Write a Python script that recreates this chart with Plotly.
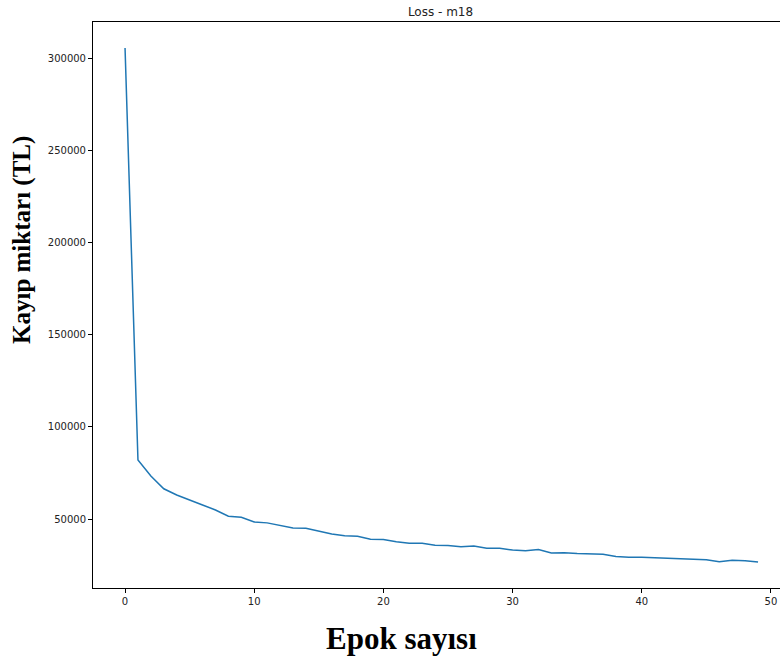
import plotly.graph_objects as go

epochs = list(range(50))
loss = [305400, 82000, 73300, 66400, 63000, 60100, 57600, 54900, 51500, 50900,
        48400, 47900, 46400, 45100, 45000, 43300, 41900, 40900, 40600, 39000,
        38900, 37700, 36800, 36800, 35800, 35600, 35000, 35300, 34100, 34100,
        33200, 32800, 33400, 31600, 31700, 31300, 31100, 30900, 29700, 29200,
        29300, 29000, 28700, 28600, 28500, 27900, 26800, 27600, 27400, 26700]

x_ticks = [0, 10, 20, 30, 40, 50]
y_ticks = [50000, 100000, 150000, 200000, 250000, 300000]

fig = go.Figure()
fig.add_trace(go.Scatter(x=epochs, y=loss, mode="lines",
                         line=dict(color="#1f77b4", width=1.5)))

W, H = 780, 657
fig.update_layout(
    width=W, height=H,
    margin=dict(l=93, r=0, t=22, b=69),
    paper_bgcolor="white", plot_bgcolor="white",
    showlegend=False,
    font=dict(family="DejaVu Sans", size=10, color="#222"),
    title=dict(text="Loss - m18", x=(93 + 788) / 2 / W, xanchor="center",
               y=1 - 12 / H, yanchor="middle",
               font=dict(family="DejaVu Sans", size=12, color="#222")),
    xaxis=dict(range=[-2.48, 50.7], tickvals=x_ticks, showgrid=False,
               zeroline=False, showline=True, linecolor="black", linewidth=1,
               mirror=True, ticks="outside", ticklen=4, tickcolor="black",
               tickfont=dict(family="DejaVu Sans", size=10, color="#222")),
    yaxis=dict(range=[12580, 319520], tickvals=y_ticks, showgrid=False,
               zeroline=False, showline=True, linecolor="black", linewidth=1,
               ticks="outside", ticklen=4, tickcolor="black",
               tickformat="d",
               tickfont=dict(family="DejaVu Sans", size=10, color="#222")),
    annotations=[
        dict(text="<b>Epok sayısı</b>", xref="paper", yref="paper",
             x=(401 - 93) / (W - 93), y=-(638 - 588) / (H - 22 - 69),
             xanchor="center", yanchor="middle", showarrow=False,
             font=dict(family="Liberation Serif", size=31, color="black")),
        dict(text="<b>Kayıp miktarı (TL)</b>", xref="paper", yref="paper",
             x=-(93 - 22) / (W - 93), y=1 - (240 - 22) / (H - 22 - 69),
             xanchor="center", yanchor="middle", showarrow=False, textangle=-90,
             font=dict(family="Liberation Serif", size=25, color="black")),
    ],
)

fig.write_html("out.html", config={"displayModeBar": False},
               post_script="document.body.style.margin='0';document.body.style.padding='0';")
